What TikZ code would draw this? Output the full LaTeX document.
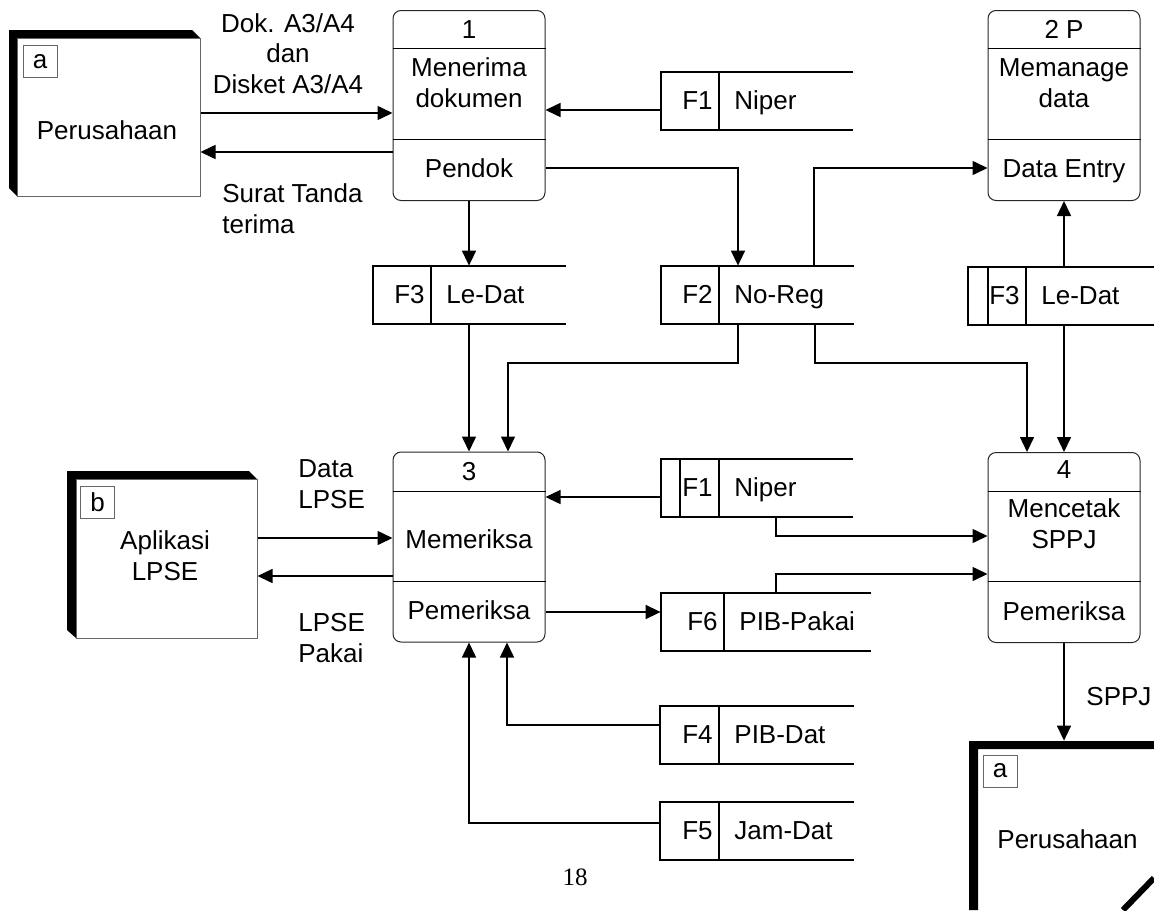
\documentclass[tikz,border=0pt]{standalone}
\usepackage{fontspec}
\setmainfont{Liberation Sans}
\newfontfamily\pagefont{Liberation Serif}
\usetikzlibrary{arrows.meta,positioning,calc}

\begin{document}
\begin{tikzpicture}[x=0.5pt,y=-0.5pt,>={Triangle[length=7.5pt,width=7pt]},
    font=\fontsize{13}{15.25}\selectfont,
    proc/.style={draw=black!85,line width=0.5pt,rounded corners=4pt,minimum width=76pt,minimum height=95pt,inner sep=0pt},
    ent/.style={draw=black!60,line width=0.5pt,fill=white,inner sep=0pt},
    tag/.style={draw=black!60,line width=0.4pt,minimum width=17pt,minimum height=16pt,inner sep=0pt},
    store/.style={inner sep=0pt,minimum height=29pt},
    storeline/.style={line width=1pt},
    flow/.style={->,line width=0.75pt},
    lbl/.style={anchor=base,inner sep=0pt,align=center},
    lblw/.style={anchor=base west,inner sep=0pt,align=left}]
    \useasboundingbox (0,0) rectangle (1154,910);

    % external entities
    \fill (9,30) -- (192,30) -- (200,38) -- (17,38) -- (17,196) -- (9,188) -- cycle;
    \node[ent,minimum width=91.5pt,minimum height=79pt] (ea) at (108.5,117) {};
    \node[tag] (taga) at (40,61.5) {a};
    \node[lbl] at (107,139) {Perusahaan};

    \fill (67,471) -- (249,471) -- (257,479) -- (76,479) -- (76,638) -- (67,630) -- cycle;
    \node[ent,minimum width=90.5pt,minimum height=79.5pt] (eb) at (166.5,558.5) {};
    \node[tag] (tagb) at (97.5,502) {b};
    \node[lbl] at (165,580) {Aplikasi\\LPSE};

    \node[inner sep=0pt,minimum width=92.5pt,minimum height=84.5pt] (ec) at (1061.5,825.5) {};
    \fill (969,741) -- (1154,741) -- (1154,749) -- (978,749) -- (978,910) -- (969,910) -- cycle;
    \draw[line width=3pt] (1154,878) -- (1123,910);
    \node[tag] (tagc) at (1000,771) {a};
    \node[lbl] at (1067.5,848) {Perusahaan};

    % processes
    \node[proc] (p1) at (469,105.5) {};
    \node[proc] (p2) at (1064,105.5) {};
    \node[proc] (p3) at (469,547) {};
    \node[proc] (p4) at (1064,547.5) {};
    \foreach \p/\a/\b in {p1/48/139,p2/48/139,p3/491/581,p4/491/581} {
        \draw[line width=0.5pt] (\p.west |- 0,\a) -- (\p.east |- 0,\a);
        \draw[line width=0.5pt] (\p.west |- 0,\b) -- (\p.east |- 0,\b);
    }
    \node[lbl] at (469,38) {1};
    \node[lbl] at (469,107) {Menerima\\dokumen};
    \node[lbl] at (469,177) {Pendok};
    \node[lbl] at (1064,38) {2 P};
    \node[lbl] at (1064,107) {Memanage\\data};
    \node[lbl] at (1064,177) {Data Entry};
    \node[lbl] at (469,480) {3};
    \node[lbl] at (469,548) {Memeriksa};
    \node[lbl] at (469,619) {Pemeriksa};
    \node[lbl] at (1064,478) {4};
    \node[lbl] at (1064,548) {Mencetak\\SPPJ};
    \node[lbl] at (1064,620) {Pemeriksa};

    % data stores
    \foreach \nm/\l/\r/\t/\d/\id/\txt in {s1/661/853/72/719/F1/Niper,
        s3a/373/566/266/431/F3/Le-Dat, s2/661/854/266/719/F2/No-Reg,
        s3b/968/1154/267/1026/F3/Le-Dat, s1b/661/853/459/719/F1/Niper,
        s6/661/871/593/724/F6/PIB-Pakai, s4/660/854/706/719/F4/PIB-Dat,
        s5/660/854/802/719/F5/Jam-Dat} {
        \node[store,minimum width={(\r-\l)*0.5pt}] (\nm) at ({(\l+\r)/2},{\t+29}) {};
        \draw[storeline] (\nm.north east) -- (\nm.north west) -- (\nm.south west) -- (\nm.south east);
        \draw[storeline] (\d,\t) -- (\d,{\t+58});
        \node[anchor=base east,inner sep=0pt] at ({\d-6},{\t+37}) {\id};
        \node[anchor=base west,inner sep=0pt] at ({\d+15},{\t+37}) {\txt};
    }
    \draw[storeline] ([xshift=10pt]s3b.north west) -- ([xshift=10pt]s3b.south west);
    \draw[storeline] ([xshift=9.5pt]s1b.north west) -- ([xshift=9.5pt]s1b.south west);

    % flows
    \draw[flow] (ea.east |- 0,113) -- (p1.west |- 0,113);
    \draw[flow] (p1.west |- 0,152) -- (ea.east |- 0,152);
    \node[lbl] at (288,93) {Dok. A3/A4\\dan\\Disket A3/A4};
    \node[lblw] at (222,233) {Surat Tanda\\terima};
    \draw[flow] (s1.west |- 0,110) -- (p1.east |- 0,110);
    \draw[flow] (p1.south) -- (p1.south |- s3a.north);
    \draw[flow] (p1.east |- 0,168) -| (s2.north -| 738,0);
    \draw[flow] (s2.north -| 814,0) |- (p2.west |- 0,168);
    \draw[flow] (p2.south |- s3b.north) -- (p2.south);
    \draw[flow] (p3.north |- s3a.south) -- (p3.north);
    \draw[flow] (s2.south -| 738,0) -- (738,363) -| (p3.north -| 508,0);
    \draw[flow] (s2.south -| 815,0) -- (815,363) -| (p4.north -| 1027,0);
    \draw[flow] (p4.north |- s3b.south) -- (p4.north);
    \draw[flow] (eb.east |- 0,538) -- (p3.west |- 0,538);
    \draw[flow] (p3.west |- 0,576) -- (eb.east |- 0,576);
    \node[lblw] at (298,508) {Data\\LPSE};
    \node[lblw] at (298,662) {LPSE\\Pakai};
    \draw[flow] (s1b.west |- 0,497) -- (p3.east |- 0,497);
    \draw[flow] (s1b.south -| 776,0) |- (p4.west |- 0,536);
    \draw[flow] (p3.east |- 0,612) -- (s6.west |- 0,612);
    \draw[flow] (s6.north -| 776,0) |- (p4.west |- 0,574);
    \draw[flow] (s4.west |- 0,725) -| (p3.south -| 507,0);
    \draw[flow] (s5.west |- 0,823) -| (p3.south);
    \draw[flow] (p4.south) -- (p4.south |- ec.north);
    \node[lblw] at (1086,705) {SPPJ};

    \node[anchor=base,inner sep=0pt,font=\pagefont\fontsize{12.5}{15}\selectfont] (pg) at (575,885) {18};
\end{tikzpicture}
\end{document}
